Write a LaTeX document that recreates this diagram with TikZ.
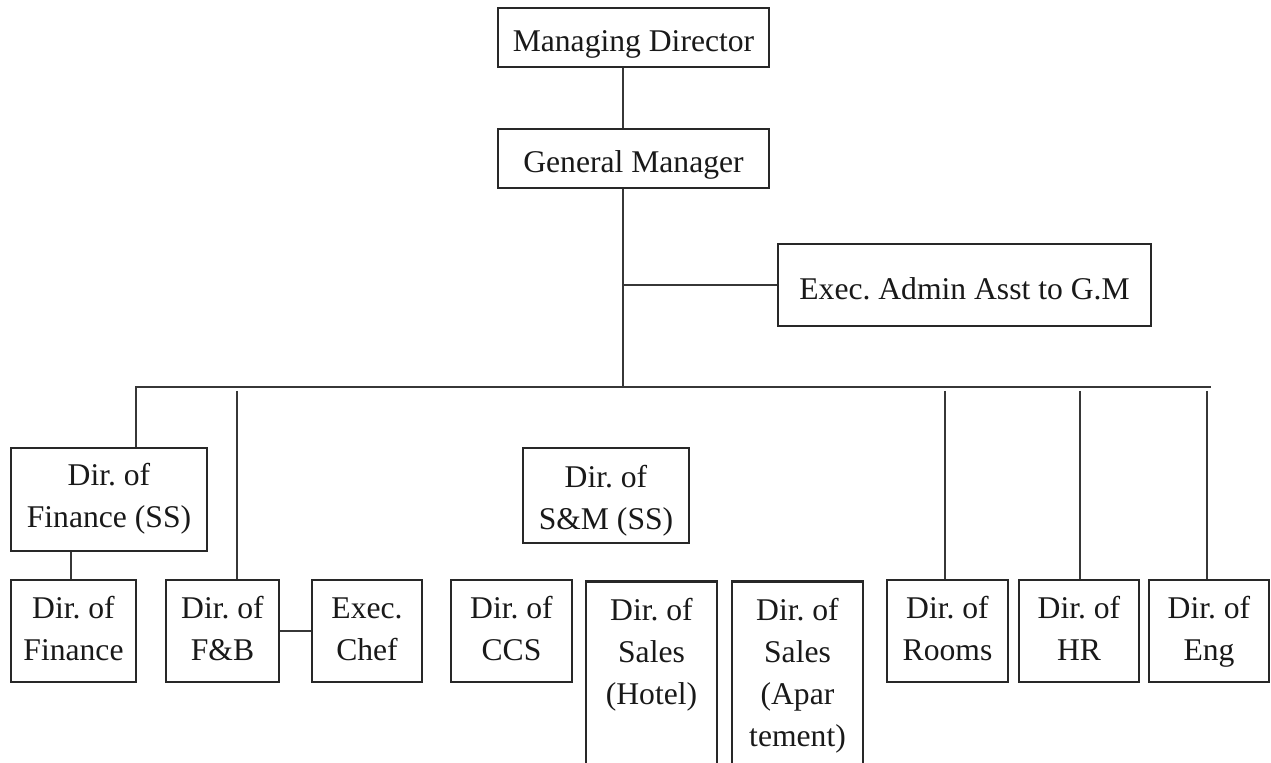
\documentclass[tikz,border=0pt]{standalone}
\usepackage{fontspec}
\setmainfont{Liberation Serif}
\usepackage{tikz}
\usetikzlibrary{positioning}
\definecolor{boxgray}{RGB}{40,40,40}
\definecolor{linegray}{RGB}{55,55,55}
\newcommand{\headstrut}{\rule{0pt}{23.6pt}}
\frenchspacing

\begin{document}
\begin{tikzpicture}[
    x=0.02cm, y=-0.02cm,
    box/.style={draw=boxgray, line width=1.5pt, rectangle, align=center, inner sep=0pt, text=black!90,
        font=\fontsize{18}{24}\selectfont, execute at begin node=\headstrut, execute at end node=\strut},
    row/.style={box, minimum height=2.04cm, text height=40pt, text depth=6pt},
    txt/.style={anchor=north, align=center, inner sep=0pt, text=black!90,
        font=\fontsize{18}{24}\selectfont},
    link/.style={draw=linegray, line width=0.75pt}
]
    \clip (0,0) rectangle (1271,763);
    \fill[white] (0,0) rectangle (1271,763);

    % Top of the chart
    \node[box, minimum width=5.42cm, minimum height=1.18cm] (md) at (633.5,37.5) {Managing Director};
    \node[box, minimum width=5.42cm, minimum height=1.18cm] (gm) at (633.5,158.5) {General Manager};
    \node[box, minimum width=7.46cm, minimum height=1.64cm] (asst) at (964.5,285) {Exec. Admin Asst to G.M};

    % Second level
    \node[box, minimum width=3.92cm, minimum height=2.06cm, text height=38pt, text depth=6pt] (finss) at (109,499.5) {Dir. of\\Finance (SS)};
    \node[box, minimum width=3.32cm, minimum height=1.9cm, text height=44.8pt, text depth=6pt] (smss) at (606,495.5) {Dir. of\\S\&M (SS)};

    % Bottom row
    \node[row, minimum width=2.5cm] (fin) at (73.5,631) {Dir. of\\Finance};
    \node[row, minimum width=2.26cm] (fnb) at (222.5,631) {Dir. of\\F\&B};
    \node[row, minimum width=2.2cm] (chef) at (367,631) {Exec.\\Chef};
    \node[row, minimum width=2.42cm] (ccs) at (511.5,631) {Dir. of\\CCS};
    \node[box, minimum width=2.62cm, minimum height=6.4cm, anchor=north] (salesh) at (651.5,580) {};
    \node[txt] (saleshtxt) at ([yshift=-0.35cm]salesh.north) {Dir. of\\Sales\\(Hotel)};
    \node[box, minimum width=2.62cm, minimum height=6.4cm, anchor=north] (salesa) at (797.5,580) {};
    \node[txt] (salesatxt) at ([yshift=-0.35cm]salesa.north) {Dir. of\\Sales\\(Apar\\tement)};
    \node[row, minimum width=2.42cm] (rooms) at (947.5,631) {Dir. of\\Rooms};
    \node[row, minimum width=2.4cm] (hr) at (1079,631) {Dir. of\\HR};
    \node[row, minimum width=2.4cm] (eng) at (1209,631) {Dir. of\\Eng};

    % Connections
    \coordinate (spine) at (623,387);
    \coordinate (barR) at (1211,387);
    \coordinate (tfin) at (136,387);
    \draw[link] (md.south -| spine) -- (gm.north -| spine);
    \draw[link] (gm.south -| spine) -- (spine);
    \draw[link] (asst.west -| spine) -- (asst.west);
    \draw[link] (finss.north -| tfin) |- (barR);
    \draw[link] (finss.south -| 71,0) -- (fin.north -| 71,0);
    \foreach \n/\x in {fnb/237, rooms/945, hr/1080, eng/1207} {
        \coordinate (t\n) at (\x,391);
        \draw[link] (t\n) -- (t\n |- \n.north);
    }
    \draw[link] (fnb.east) -- (chef.west);
\end{tikzpicture}
\end{document}
